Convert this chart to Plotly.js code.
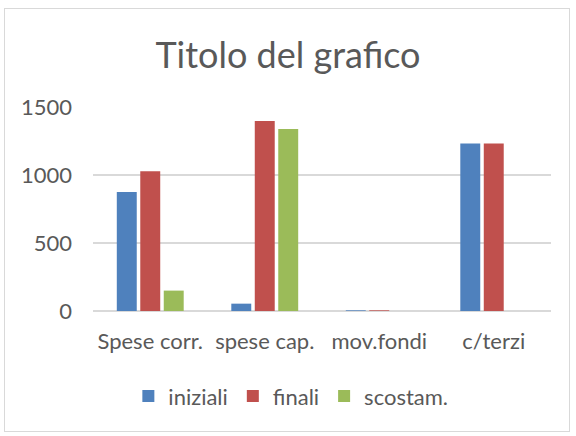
<!DOCTYPE html>
<html><head><meta charset="utf-8">
<script src="https://cdn.plot.ly/plotly-3.0.1.min.js"></script>
<style>
html,body{margin:0;padding:0;background:#fff;}
#wrap{position:relative;width:576px;height:436px;}
#chart{width:576px;height:436px;}
#frame{position:absolute;left:4px;top:8px;width:566px;height:424px;border:1px solid #d9d9d9;pointer-events:none;box-sizing:border-box;}
</style></head>
<body>
<div id="wrap"><div id="chart"></div><div id="frame"></div></div>
<script>
const categories = ["Spese corr.", "spese cap.", "mov.fondi", "c/terzi"];
const iniziali = [875, 54, 5, 1231];
const finali = [1027, 1397, 5, 1231];
const scostam = [150, 1338, 0, 0];
const yTicks = [0, 500, 1000, 1500];

const font = "Lato, 'Open Sans', sans-serif";
const traces = [
  {type:'bar', name:'iniziali', x:categories, y:iniziali, marker:{color:'#4F81BD'}},
  {type:'bar', name:'finali', x:categories, y:finali, marker:{color:'#C0504D'}},
  {type:'bar', name:'scostam.', x:categories, y:scostam, marker:{color:'#9BBB59'}}
];
const layout = {
  width:576, height:436,
  margin:{l:93, r:25, t:107, b:125},
  paper_bgcolor:'#fff', plot_bgcolor:'#fff',
  font:{family:font, color:'#595959', size:22},
  title:{text:'Titolo del grafico', font:{family:font, size:36, color:'#595959'}, x:0.5, xanchor:'center', y:0.873, yanchor:'middle'},
  barmode:'group', bargap:0.385, bargroupgap:0.15,
  xaxis:{type:'category', showgrid:false, showline:false, zeroline:false, ticks:'', ticklabelstandoff:15, tickfont:{size:22, color:'#595959'}},
  yaxis:{range:[0,1500], tickvals:yTicks, ticktext:yTicks.map(String), showgrid:true, gridcolor:'#d9d9d9', gridwidth:1.4, zeroline:true, zerolinecolor:'#d9d9d9', zerolinewidth:1.4, showline:false, ticks:'', ticklabelstandoff:20, tickfont:{size:22, color:'#595959'}},
  showlegend:true,
  legend:{orientation:'h', x:0.432, xanchor:'center', y:-0.418, yanchor:'middle', font:{size:22, color:'#595959'}, itemwidth:30, tracegroupgap:0}
};
Plotly.newPlot('chart', traces, layout, {displayModeBar:false, staticPlot:true});
</script>
</body></html>
